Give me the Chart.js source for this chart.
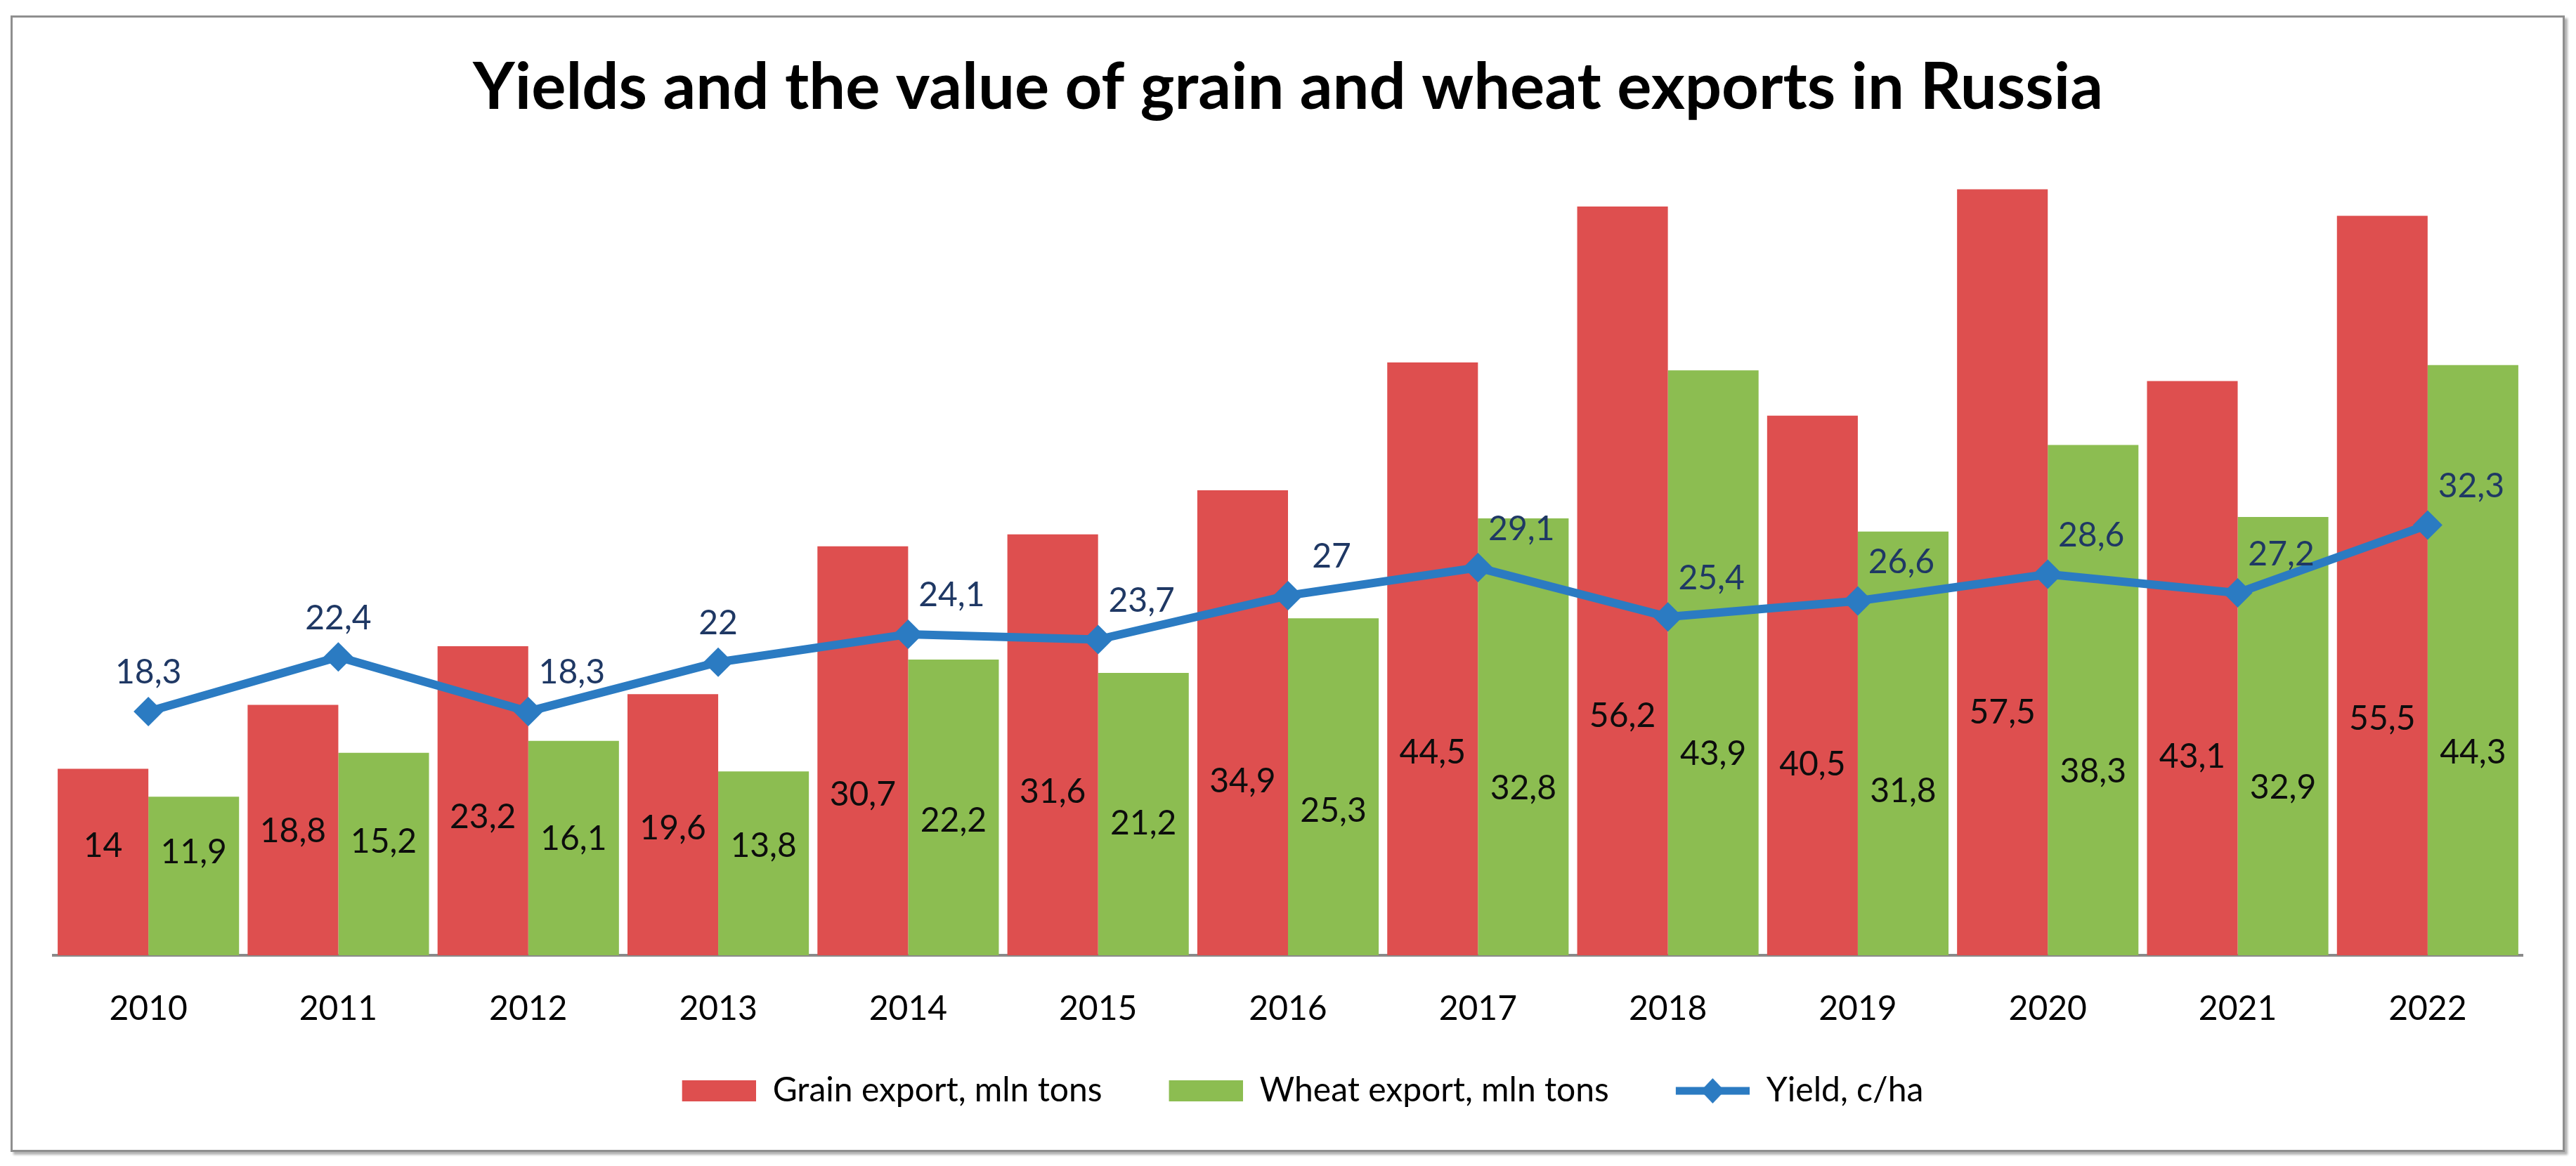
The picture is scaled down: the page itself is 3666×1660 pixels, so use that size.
<!DOCTYPE html>
<html><head><meta charset="utf-8">
<script src="https://cdn.jsdelivr.net/npm/chart.js@4.4.1/dist/chart.umd.min.js"></script>
<style>
html,body{margin:0;padding:0;background:#fff;}
#wrap{position:relative;width:3666px;height:1660px;overflow:hidden;background:#fff;}
#frame{position:absolute;left:15px;top:22px;width:3629px;height:1612px;border:3px solid #8f8f8f;box-shadow:4px 4px 3px rgba(0,0,0,0.3);pointer-events:none;}
canvas{position:absolute;left:0;top:0;}
</style></head><body>
<div id="wrap"><canvas id="c" width="3666" height="1660"></canvas><div id="frame"></div></div>
<script>
// ---- data ----
const years = ['2010','2011','2012','2013','2014','2015','2016','2017','2018','2019','2020','2021','2022'];
const grainExport = [14, 18.8, 23.2, 19.6, 30.7, 31.6, 34.9, 44.5, 56.2, 40.5, 57.5, 43.1, 55.5];
const wheatExport = [11.9, 15.2, 16.1, 13.8, 22.2, 21.2, 25.3, 32.8, 43.9, 31.8, 38.3, 32.9, 44.3];
const yieldValues = [18.3, 22.4, 18.3, 22, 24.1, 23.7, 27, 29.1, 25.4, 26.6, 28.6, 27.2, 32.3];
const seriesNames = ['Grain export, mln tons', 'Wheat export, mln tons', 'Yield, c/ha'];
const titleText = 'Yields and the value of grain and wheat exports in Russia';

// ---- styles ----
const RED = '#DE4F4F', GREEN = '#8CBD51', BLUE = '#2B7BC2', NAVY = '#1F3864';
const FONT = 'Lato';
const fmt = v => String(v).replace('.', ',');

const mctx = document.createElement('canvas').getContext('2d');
mctx.font = 'bold 100px ' + FONT;
const titleSize = 100 * 2320 / mctx.measureText(titleText).width;
const layoutTop = 25;
const titlePadTop = 125 - layoutTop - 0.6 * titleSize;
const titlePadBottom = 222 - layoutTop - titlePadTop - 1.2 * titleSize;

// legend marker images: 42px transparent lead-in, then the visible 105px marker
const LEAD = 42, MW = 105, IMGW = LEAD + MW;
function boxImg(color) {
  const c = document.createElement('canvas'); c.width = IMGW; c.height = 30;
  const g = c.getContext('2d'); g.fillStyle = color; g.fillRect(LEAD, 0, MW, 30); return c;
}
function lineImg() {
  const c = document.createElement('canvas'); c.width = IMGW; c.height = 40;
  const g = c.getContext('2d');
  g.strokeStyle = BLUE; g.lineWidth = 11; g.beginPath(); g.moveTo(LEAD, 20); g.lineTo(IMGW, 20); g.stroke();
  const cx = LEAD + MW / 2;
  g.fillStyle = BLUE; g.beginPath(); g.moveTo(cx, 2); g.lineTo(cx + 17, 20); g.lineTo(cx, 38); g.lineTo(cx - 17, 20); g.closePath(); g.fill();
  return c;
}
const legendImgs = [boxImg(RED), boxImg(GREEN), lineImg()];

const labelPlugin = {
  id: 'valueLabels',
  afterDatasetsDraw(chart) {
    const ctx = chart.ctx, ys = chart.scales.y;
    ctx.save();
    ctx.font = '48px ' + FONT; ctx.textAlign = 'center'; ctx.textBaseline = 'middle';
    [0, 1].forEach(di => {
      const vals = chart.data.datasets[di].data;
      chart.getDatasetMeta(di).data.forEach((bar, i) => {
        ctx.fillStyle = '#0d0d0d';
        ctx.fillText(fmt(vals[i]), bar.x, ys.getPixelForValue(vals[i] * 0.23 + 5));
      });
    });
    const lv = chart.data.datasets[2].data;
    ctx.fillStyle = NAVY;
    chart.getDatasetMeta(2).data.forEach((pt, i) => {
      const centered = (i === 0 || i === 1 || i === 3);
      const dx = centered ? 0 : 62, dy = -55;
      ctx.fillText(fmt(lv[i]), pt.x + dx, pt.y + dy);
    });
    ctx.restore();
  }
};

new Chart(document.getElementById('c'), {
  type: 'bar',
  data: {
    labels: years,
    datasets: [
      { type: 'bar', label: seriesNames[0], data: grainExport, backgroundColor: RED, borderWidth: 0,
        categoryPercentage: 0.955, barPercentage: 1, order: 1 },
      { type: 'bar', label: seriesNames[1], data: wheatExport, backgroundColor: GREEN, borderWidth: 0,
        categoryPercentage: 0.955, barPercentage: 1, order: 1 },
      { type: 'line', label: seriesNames[2], data: yieldValues, borderColor: BLUE, backgroundColor: BLUE,
        borderWidth: 12, tension: 0, pointStyle: 'rectRot', pointRadius: 21, pointHoverRadius: 21,
        pointBackgroundColor: BLUE, pointBorderWidth: 0, order: 0 }
    ]
  },
  options: {
    responsive: false, animation: false, devicePixelRatio: 1,
    layout: { padding: { left: 76, right: 76, top: layoutTop, bottom: 73 } },
    plugins: {
      tooltip: { enabled: false },
      title: { display: true, text: titleText, color: '#000',
        font: { family: FONT, weight: 'bold', size: titleSize },
        padding: { top: titlePadTop, bottom: titlePadBottom } },
      legend: {
        position: 'bottom',
        labels: {
          usePointStyle: true, pointStyleWidth: IMGW, padding: 53, color: '#000',
          font: { family: FONT, size: 48 },
          generateLabels: (chart) => seriesNames.map((t, i) => ({
            text: t, pointStyle: legendImgs[i], datasetIndex: i, hidden: false,
            fillStyle: 'rgba(0,0,0,0)', strokeStyle: 'rgba(0,0,0,0)', lineWidth: 0, fontColor: '#000'
          }))
        }
      }
    },
    scales: {
      x: {
        grid: { display: false, drawTicks: false },
        border: { display: true, color: '#8a8a8a', width: 4 },
        ticks: { font: { family: FONT, size: 48 }, color: '#000', padding: 48 },
        afterFit(s) { s.height = 116; }
      },
      y: { display: false, min: 0, max: 60 }
    }
  },
  plugins: [labelPlugin]
});
</script>
</body></html>
